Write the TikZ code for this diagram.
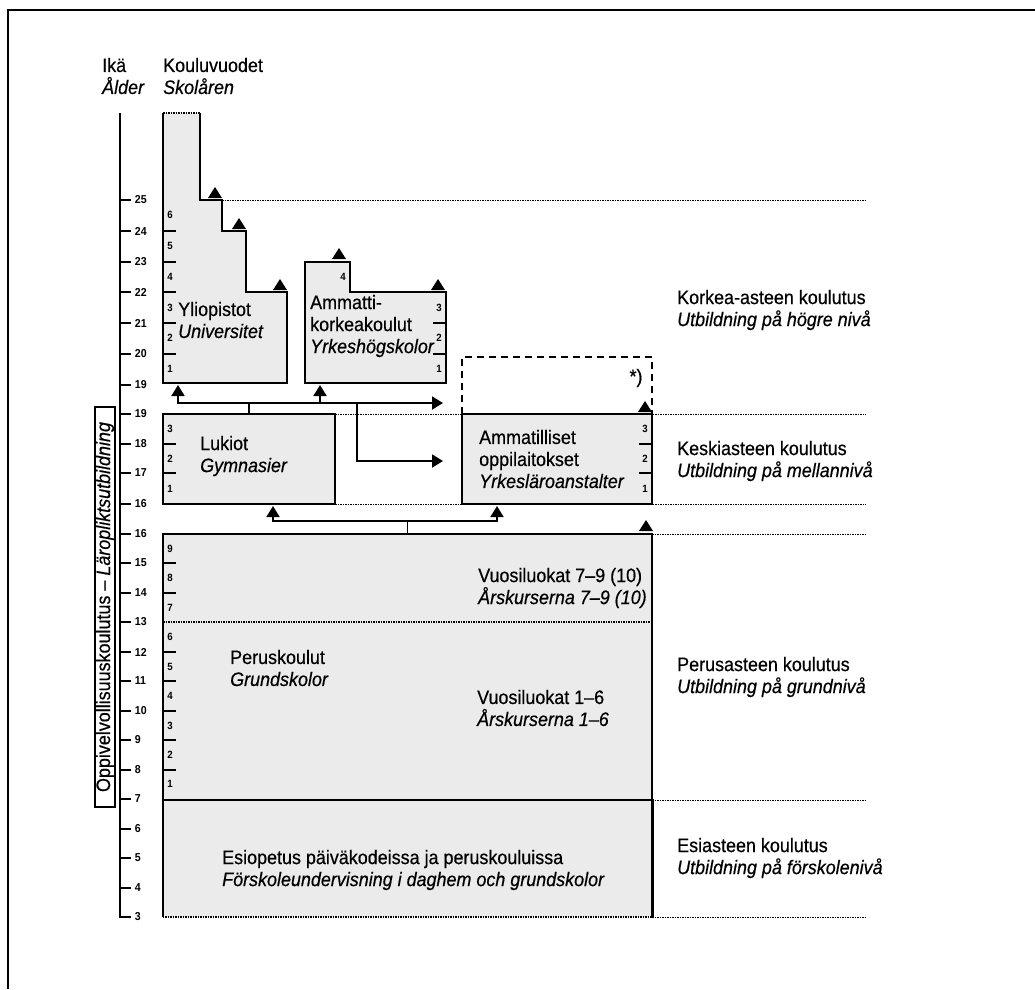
\documentclass[tikz,border=0pt]{standalone}
\usepackage{fontspec}
\setmainfont{Liberation Sans}[FakeStretch=0.92, UprightFeatures={FakeBold=0.5}, ItalicFeatures={FakeBold=0.5}]
\usetikzlibrary{arrows.meta, positioning}

\begin{document}
\begin{tikzpicture}[
  x=1pt, y=-1pt, % pixel grid, y runs downwards
  font=\fontsize{19.5}{22}\selectfont,
  block/.style={draw, line width=2.6pt, fill=black!8, inner sep=0pt, outer sep=0pt},
  conn/.style={line width=1.8pt},
  arr/.style={conn, -{Triangle[width=13pt, length=11pt]}},
  guide/.style={line width=1pt, dash pattern=on 1.5pt off 1pt},
  lbl/.style={anchor=west, align=left, inner sep=0pt},
  agenum/.style={font=\fontsize{11.5}{11.5}\selectfont\bfseries, inner sep=0pt, anchor=west},
  yearnum/.style={font=\fontsize{10.5}{10.5}\selectfont\bfseries, inner sep=0pt},
  uptri/.pic={\fill (-7pt,0) -- (7pt,0) -- (0,11pt) -- cycle;}
]
\useasboundingbox (0,0) rectangle (1035,989);

% frame, top and left side only
\draw[line width=2.2pt] (8,989) -- (8,10) -- (1035,10);

% headings
\node[lbl] (age) at (102,76) {Ikä\\\textit{Ålder}};
\node[lbl] (years) at (163,76) {Kouluvuodet\\\textit{Skolåren}};

% age scale
\draw[line width=2.2pt] (120,113) -- (120,917) -- (131,917);
\foreach \a/\y [count=\i] in {25/200, 24/231, 23/262, 22/292, 21/323, 20/354, 19/385,
    19/414, 18/444, 17/473, 16/504,
    16/534, 15/563, 14/593, 13/622, 12/652, 11/681, 10/711, 9/740, 8/770, 7/799, 6/829, 5/858, 4/888, 3/917}
  \draw[conn] (120,\y) -- (131,\y) node[agenum, xshift=3pt] (age\i) {\a};

% dotted level lines
\draw[guide] (222,200) -- (866,200);
\draw[guide] (335,414) -- (866,414);
\draw[guide] (335,504) -- (866,504);
\draw[guide] (652,534) -- (866,534);
\draw[guide] (652,800) -- (866,800);
\draw[guide] (652,917) -- (866,917);

% universities
\draw[block] (200,113) -- (200,200) -- (222,200) -- (222,231) -- (246,231) -- (246,292)
  -- (287,292) -- (287,383) -- (163,383) -- (163,113);
\draw[line width=2.5pt, dash pattern=on 1.5pt off 1pt] (163,113) -- (200,113);
\foreach \y in {354,323,292,262,231} \draw[conn] (163,\y) -- +(13,0);
\foreach \n/\y in {1/369,2/338,3/308,4/277,5/246,6/215} \node[yearnum] (uni\n) at (170,\y) {\n};
\node[lbl] (uni) at (178,320) {Yliopistot\\\textit{Universitet}};
\pic at (215,198) {uptri};
\pic at (239,229) {uptri};
\pic at (280,290) {uptri};

% polytechnics
\draw[block] (305,383) -- (305,262) -- (350,262) -- (350,292) -- (446,292) -- (446,383) -- cycle;
\foreach \y in {323,354} \draw[conn] (446,\y) -- +(-13,0);
\foreach \n/\y in {1/369,2/338,3/308} \node[yearnum] (amk\n) at (439,\y) {\n};
\node[yearnum] (amk4) at (343,277) {4};
\node[lbl] (amk) at (310,326) {Ammatti-\\korkeakoulut\\\textit{Yrkeshögskolor}};
\pic at (339,259) {uptri};
\pic at (438,290) {uptri};

% upper secondary level
\node[block, minimum width=172, minimum height=90] (luk) at (249,459) {};
\foreach \y in {444,473} \draw[conn] (163,\y) -- +(13,0);
\foreach \n/\y in {1/489,2/459,3/429} \node[yearnum] (luk\n) at (170,\y) {\n};
\node[lbl] (lukt) at (200,456) {Lukiot\\\textit{Gymnasier}};

\node[block, minimum width=190, minimum height=90] (amm) at (557,459) {};
\foreach \y in {444,473} \draw[conn] (652,\y) -- +(-13,0);
\foreach \n/\y in {1/489,2/459,3/429} \node[yearnum] (amm\n) at (645,\y) {\n};
\node[lbl] (ammt) at (479,459) {Ammatilliset\\oppilaitokset\\\textit{Yrkesläroanstalter}};
\draw[conn, dash pattern=on 7pt off 5pt] (amm.north west) -- ++(0,-57) -| (amm.north east);
\node (opt) at (636,378) {*)};
\pic at (645,412) {uptri};

% pre-primary
\node[fill=black!8, inner sep=0pt, minimum width=489, minimum height=117] (esi) at (407.5,858.5) {};
\draw[line width=2.6pt] (esi.south west) -- (esi.north west) -- (esi.north east) -- (esi.south east);
\draw[line width=2.4pt, dash pattern=on 1.5pt off 1pt] (esi.south west) -- (esi.south east);
\node[lbl] (esit) at (222,870) {Esiopetus päiväkodeissa ja peruskouluissa\\\textit{Förskoleundervisning i daghem och grundskolor}};

% basic education
\node[block, minimum width=489, minimum height=266] (per) at (407.5,667) {};
\draw[line width=1.4pt, dash pattern=on 1.5pt off 1pt] (163,622) -- (652,622);
\foreach \y in {770,740,711,681,652,593,563} \draw[conn] (163,\y) -- +(13,0);
\foreach \n/\y in {1/784,2/755,3/726,4/696,5/667,6/637,7/608,8/578,9/549} \node[yearnum] (per\n) at (170,\y) {\n};
\node[lbl] (vl79) at (478,588) {Vuosiluokat 7–9 (10)\\\textit{Årskurserna 7–9 (10)}};
\node[lbl] (pert) at (230,668) {Peruskoulut\\\textit{Grundskolor}};
\node[lbl] (vl16) at (477,708) {Vuosiluokat 1–6\\\textit{Årskurserna 1–6}};
\pic at (646,531) {uptri};

% connectors
\draw[conn] (luk.north) -- ++(0,-11) coordinate (j1);
\coordinate (uniIn) at (178,385);
\coordinate (amkIn) at (320,385);
\coordinate (optIn) at (443,403);
\coordinate (split) at (357,403);
\coordinate (ammIn) at (443,461);
\draw[arr] (j1) -| (uniIn);
\draw[arr] (j1) -| (amkIn);
\draw[arr] (j1) -- (optIn);
\draw[arr] (split) |- (ammIn);

\draw[conn] (per.north) -- ++(0,-13) coordinate (j2);
\coordinate (lukIn) at (273,506);
\coordinate (ammIn2) at (497,506);
\draw[arr] (j2) -| (lukIn);
\draw[arr] (j2) -| (ammIn2);

% compulsory schooling
\node[draw, line width=1.8pt, rotate=90, minimum width=400, inner sep=1pt] (oblig) at (105,607)
  {Oppivelvollisuuskoulutus – \textit{Läropliktsutbildning}};

% level names
\node[lbl] (korkea) at (677,310) {Korkea-asteen koulutus\\\textit{Utbildning på högre nivå}};
\node[lbl] (keski) at (677,461) {Keskiasteen koulutus\\\textit{Utbildning på mellannivå}};
\node[lbl] (perus) at (677,677) {Perusasteen koulutus\\\textit{Utbildning på grundnivå}};
\node[lbl] (esiaste) at (677,858) {Esiasteen koulutus\\\textit{Utbildning på förskolenivå}};
\end{tikzpicture}
\end{document}
